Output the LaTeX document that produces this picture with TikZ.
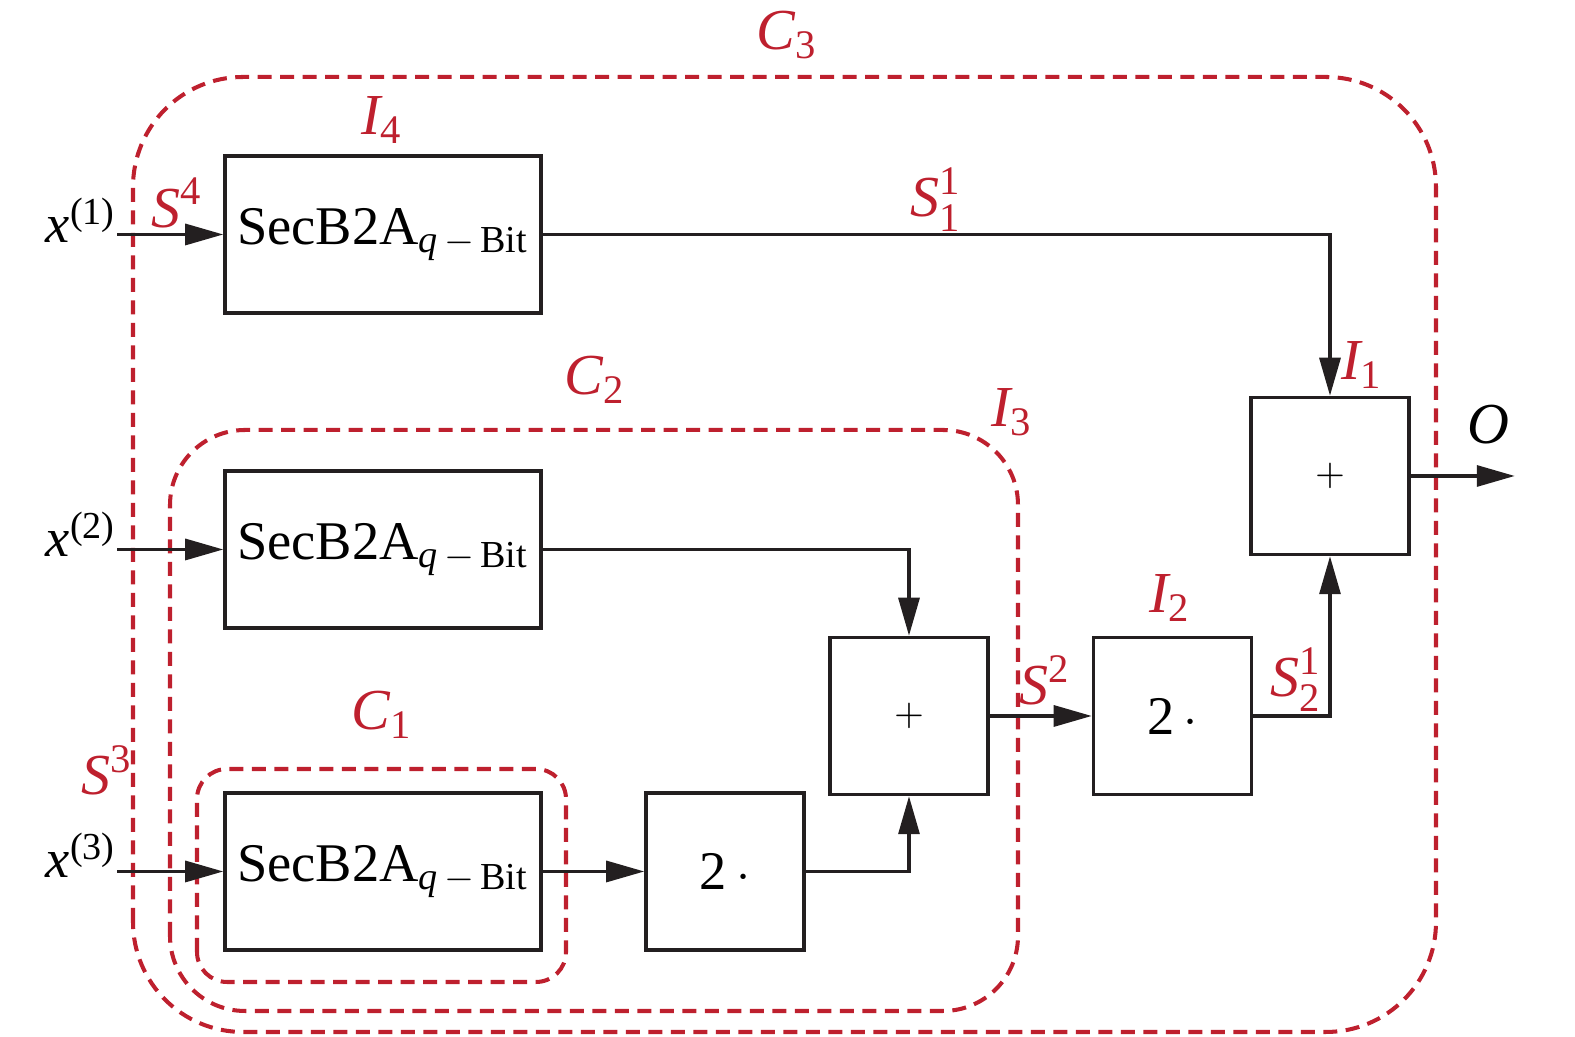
\documentclass[tikz,border=0pt]{standalone}
\usepackage{amsmath}
\usepackage{fontspec}
\setmainfont{Liberation Serif}
\usepackage{tikz}
\usetikzlibrary{arrows.meta, positioning}
\definecolor{groupred}{RGB}{190, 32, 46}
\definecolor{wireblack}{RGB}{35, 31, 32}

\tikzset{
  blockbox/.style={draw=wireblack, line width=1pt, minimum height=1.57cm},
  widebox/.style={blockbox, minimum width=3.16cm},
  smallbox/.style={blockbox, minimum width=1.58cm},
  groupline/.style={draw=groupred, line width=1.15pt, dash pattern=on 0.14cm off 0.085cm},
  redlabel/.style={text=groupred, font=\fontsize{16.5}{19}\selectfont},
  inlabel/.style={anchor=base east, inner sep=0pt},
  wire/.style={draw=wireblack, line width=0.9pt, -{Triangle[length=3.8mm, width=2.1mm]}},
}
\newcommand{\secbit}{SecB2A$_{\textit{q}\,-\,\textrm{Bit}}$}
\newcommand{\twodot}{2\,$\cdot$}
\newcommand{\plussign}{\fontsize{11}{13}\selectfont$+$}

\begin{document}
\begin{tikzpicture}[font=\fontsize{15.5}{18}\selectfont]
    \useasboundingbox (0,0) rectangle (15.75,10.37);

    % dashed groups
    \draw[groupline, rounded corners=1.1cm] (1.33,0.05) rectangle (14.36,9.60);
    \draw[groupline, rounded corners=0.75cm] (1.70,0.26) rectangle (10.18,6.07);
    \draw[groupline, rounded corners=0.3cm] (1.97,0.55) rectangle (5.66,2.68);

    % blocks
    \node[widebox] (B1) at (3.83,8.025) {\secbit};
    \node[widebox] (B2) at (3.83,4.875) {\secbit};
    \node[widebox] (B3) at (3.83,1.655) {\secbit};
    \node[smallbox] (D1) at (7.25,1.655) {\twodot};
    \node[smallbox] (P2) at (9.09,3.21) {\plussign};
    \node[smallbox] (D2) at (11.725,3.21) {\twodot};
    \node[smallbox] (P1) at (13.30,5.61) {\plussign};

    % inputs
    \node[inlabel] (x1) at (1.17,7.94) {$\textit{x}^{\textrm{(1)}}$};
    \node[inlabel] (x2) at (1.17,4.80) {$\textit{x}^{\textrm{(2)}}$};
    \node[inlabel] (x3) at (1.17,1.59) {$\textit{x}^{\textrm{(3)}}$};
    \draw[wire] (x1.east |- B1.west) -- (B1.west);
    \draw[wire] (x2.east |- B2.west) -- (B2.west);
    \draw[wire] (x3.east |- B3.west) -- (B3.west);

    % wires between blocks
    \draw[wire] (B1.east) -| (P1.north);
    \draw[wire] (B2.east) -| (P2.north);
    \draw[wire] (B3.east) -- (D1.west);
    \draw[wire] (D1.east) -| (P2.south);
    \draw[wire] (P2.east) -- (D2.west);
    \draw[wire] (D2.east) -| (P1.south);
    \coordinate (out) at ([xshift=1.04cm]P1.east);
    \draw[wire] (P1.east) -- (out);
    \node (O) at (14.88,6.12) {\fontsize{16.5}{19}\selectfont$\textit{O}$};

    % red labels
    \node[redlabel] (lC3) at (7.87,10.02) {$\textit{C}_{\textrm{3}}$};
    \node[redlabel] (lC2) at (5.95,6.57) {$\textit{C}_{\textrm{2}}$};
    \node[redlabel] (lC1) at (3.82,3.22) {$\textit{C}_{\textrm{1}}$};
    \node[redlabel] (lI4) at (3.82,9.17) {$\textit{I}_{\textrm{4}}$};
    \node[redlabel] (lI3) at (10.12,6.25) {$\textit{I}_{\textrm{3}}$};
    \node[redlabel] (lI2) at (11.70,4.39) {$\textit{I}_{\textrm{2}}$};
    \node[redlabel] (lI1) at (13.62,6.72) {$\textit{I}_{\textrm{1}}$};
    \node[redlabel] (lS4) at (1.77,8.34) {$\textit{S}^{\textrm{4}}$};
    \node[redlabel] (lS3) at (1.07,2.67) {$\textit{S}^{\textrm{3}}$};
    \node[redlabel] (lS2) at (10.45,3.57) {$\textit{S}^{\textrm{2}}$};
    \node[redlabel] (lS11) at (9.36,8.37) {$\textit{S}^{\textrm{1}}_{\textrm{1}}$};
    \node[redlabel] (lS21) at (12.96,3.57) {$\textit{S}^{\textrm{1}}_{\textrm{2}}$};
\end{tikzpicture}
\end{document}
